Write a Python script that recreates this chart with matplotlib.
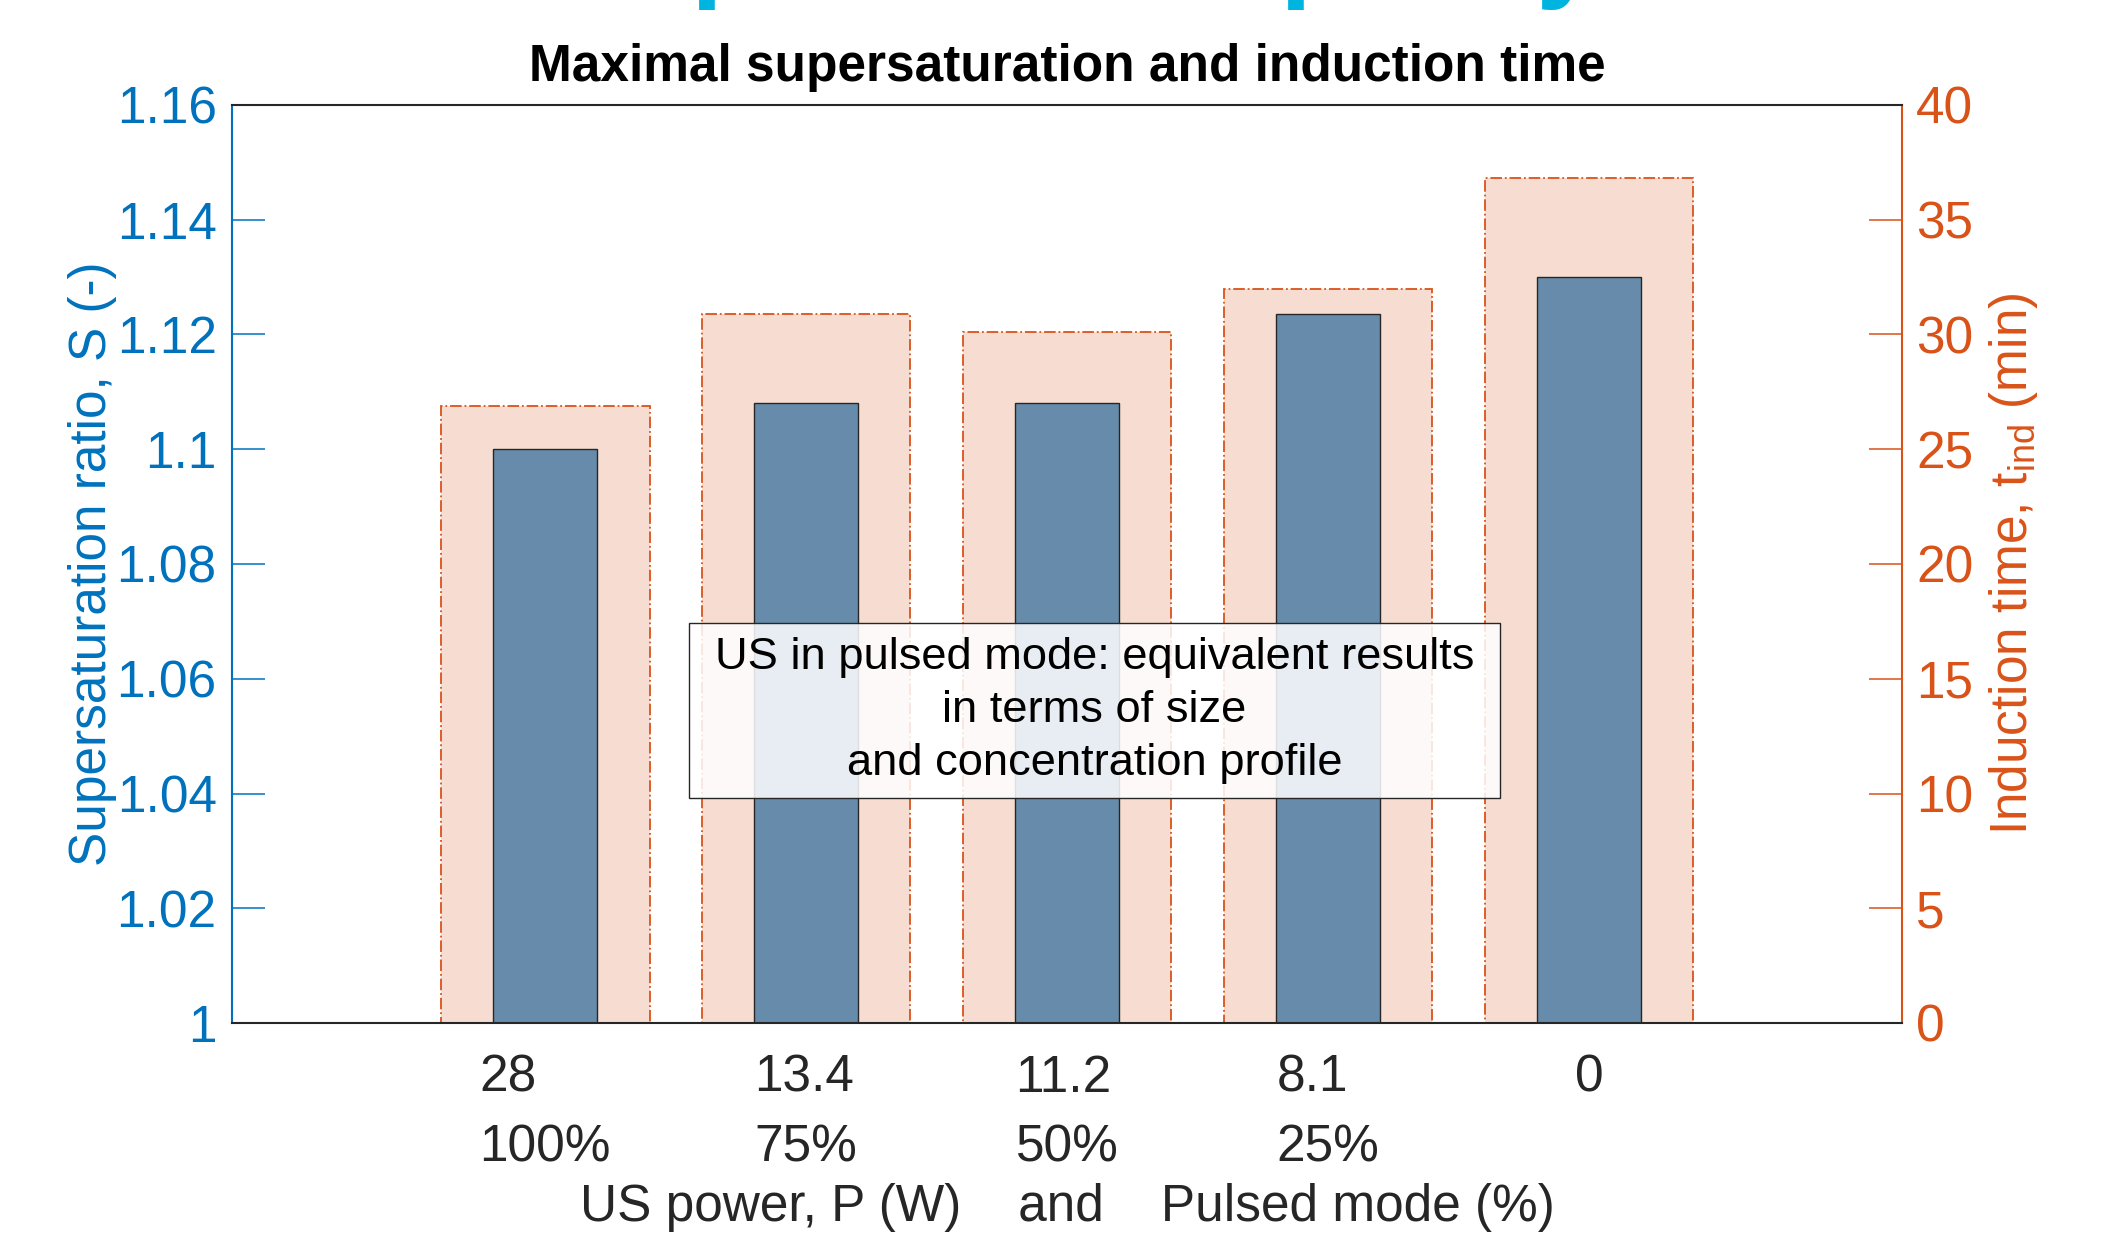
import numpy as np
import matplotlib
matplotlib.use("Agg")
import matplotlib.pyplot as plt
from matplotlib.patches import Rectangle
from matplotlib.ticker import MultipleLocator, StrMethodFormatter

plt.rcParams['font.family'] = ['Liberation Sans', 'DejaVu Sans']
plt.rcParams['mathtext.fontset'] = 'custom'
plt.rcParams['mathtext.rm'] = 'Liberation Sans'
plt.rcParams['mathtext.it'] = 'Liberation Sans'
plt.rcParams['mathtext.default'] = 'regular'

# data
power_w = ["28", "13.4", "11.2", "8.1", "0"]
pulsed = ["100%", "75%", "50%", "25%", ""]
supersat = [1.100, 1.108, 1.108, 1.1235, 1.130]   # left axis, S (-)
t_ind = [26.9, 30.9, 30.1, 32.0, 36.8]            # right axis, min

blue_axis = "#0072BD"
orange_axis = "#D95319"
dark = "#262626"
fs = 37

fig = plt.figure(figsize=(21.11, 12.33), dpi=100)
ax = fig.add_axes([232/2111, 1 - 1023/1233, 1670/2111, 918/1233])
ax2 = ax.twinx()
# left axis drawn on top of the twin so blue bars sit over the orange ones
ax.set_zorder(ax2.get_zorder() + 1)
ax.patch.set_visible(False)

x = np.arange(1, len(power_w) + 1)

ax2.bar(x, t_ind, width=0.8, color="#F7DDD1", edgecolor=orange_axis,
        linestyle="-.", linewidth=1.3)
ax.bar(x, supersat, width=0.4, color="#678CAB", edgecolor=dark, linewidth=1.0)

ax.set_xlim(-0.2, 6.2)
ax.set_ylim(1.0, 1.16)
ax2.set_ylim(0, 40)

ax.yaxis.set_major_locator(MultipleLocator(0.02))
ax.yaxis.set_major_formatter(StrMethodFormatter("{x:g}"))
ax2.yaxis.set_major_locator(MultipleLocator(5))

ax.tick_params(axis="y", direction="in", length=24, width=1.1, colors=blue_axis,
               labelsize=fs, pad=11)
ax2.tick_params(axis="y", direction="in", length=24, width=1.1, colors=orange_axis,
                labelsize=fs, pad=10)

labels = [p + ("\n" + q if q else "") for p, q in zip(power_w, pulsed)]
ax.set_xticks(x)
ax.set_xticklabels(labels, fontsize=fs, color=dark, ma="left", linespacing=1.56)
ax.tick_params(axis="x", length=0, pad=22)

for s in ["top", "bottom"]:
    ax.spines[s].set_color(dark)
    ax.spines[s].set_linewidth(1.5)
ax.spines["left"].set_color(blue_axis)
ax.spines["left"].set_linewidth(1.5)
ax.spines["right"].set_visible(False)
for s in ["top", "bottom", "left"]:
    ax2.spines[s].set_visible(False)
ax2.spines["right"].set_color(orange_axis)
ax2.spines["right"].set_linewidth(1.5)

ax.set_ylabel("Supersaturation ratio, S (-)", fontsize=fs, color=blue_axis, labelpad=0)
ax2.set_ylabel("Induction time, t$_{ind}$ (min)", fontsize=fs, color=orange_axis,
               rotation=90, labelpad=10)
ax.set_xlabel("US power, P (W)    and    Pulsed mode (%)", fontsize=fs,
              color=dark, labelpad=7)
ax.set_title("Maximal supersaturation and induction time", fontsize=fs,
             fontweight="bold", color="black", pad=17)

# note box
ax.add_patch(Rectangle((0.2737, 0.2451), 0.4856, 0.1906, transform=ax.transAxes,
                       facecolor="white", alpha=0.85, edgecolor="none", zorder=5))
ax.add_patch(Rectangle((0.2737, 0.2451), 0.4856, 0.1906, transform=ax.transAxes,
                       facecolor="none", edgecolor=dark, linewidth=1.0, zorder=6))
ax.text(0.5165, 0.3404,
        "US in pulsed mode: equivalent results\nin terms of size\nand concentration profile",
        transform=ax.transAxes, fontsize=32.6, ha="center", va="center",
        linespacing=1.37, color="black", zorder=7)

# slide heading, cropped by the top edge of the image
fig.text(435/2111, 1 + 14/1233, "Comparison of purity", fontsize=83,
         fontweight="bold", color="#00B4E0", ha="left", va="baseline")

fig.savefig("out.png", dpi=100)
